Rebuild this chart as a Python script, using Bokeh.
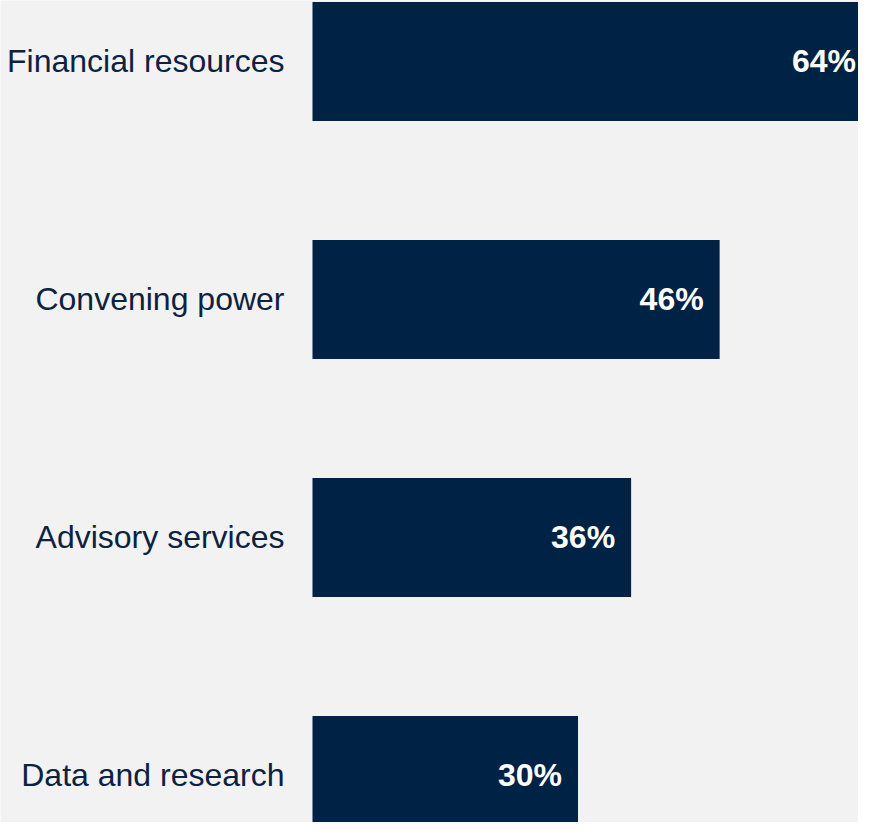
from bokeh.plotting import figure
from bokeh.models import ColumnDataSource, Range1d
from bokeh.core.properties import value
from bokeh.embed import file_html
from bokeh.resources import INLINE

categories = ["Financial resources", "Convening power", "Advisory services", "Data and research"]
values = [64, 46, 36, 30]
value_labels = ["64%", "46%", "36%", "30%"]
label_offsets = [-23, -16, -16, -16]

positions = [len(categories) - 1 - i for i in range(len(categories))]

src = ColumnDataSource(dict(
    y=positions,
    v=values,
    cat=categories,
    lab=value_labels,
    off=label_offsets,
    zero=[0] * len(values),
))

p = figure(width=858, height=822, output_backend="svg", toolbar_location=None,
           x_range=Range1d(-35.25, 61.69), y_range=Range1d(-0.198, 3.256),
           min_border=0, min_border_left=0, min_border_right=0,
           min_border_top=0, min_border_bottom=0)
p.background_fill_color = "#f2f2f2"
p.border_fill_color = "#f2f2f2"
p.outline_line_color = None
p.xaxis.visible = False
p.yaxis.visible = False
p.grid.visible = False

p.hbar(y="y", left=0, right="v", height=0.5, source=src,
       fill_color="#002244", line_color=None)

p.text(x="zero", y="y", text="cat", source=src, text_align="right",
       text_baseline="middle", x_offset=-28, text_font=value("Liberation Sans"),
       text_font_size="32px", text_color="#0d2240")

p.text(x="v", y="y", text="lab", source=src, text_align="right",
       text_baseline="middle", x_offset="off", text_font=value("Liberation Sans"),
       text_font_style="bold", text_font_size="32px", text_color="#ffffff")

open("out.html", "w").write(file_html(p, INLINE))
